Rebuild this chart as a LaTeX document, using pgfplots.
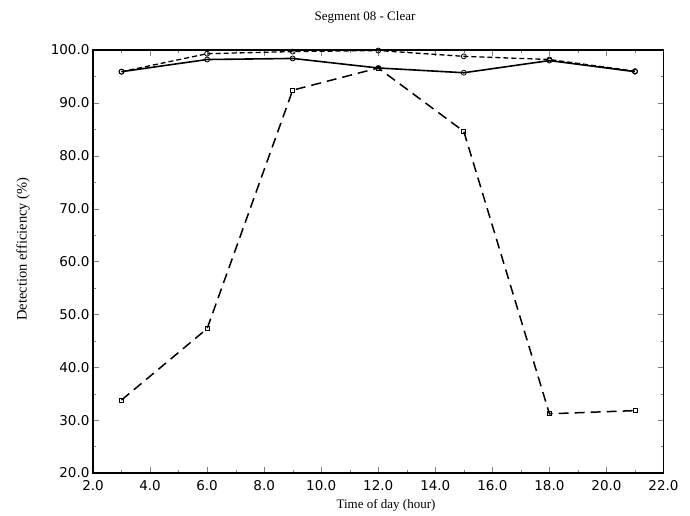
\documentclass[border=0pt]{standalone}
\usepackage{pgfplots}
\pgfplotsset{compat=1.18}
\usepackage{fontspec}
\setmainfont{Liberation Serif}
\newfontfamily\tickfont{DejaVu Sans}
\begin{document}
\begin{tikzpicture}[x=1pt,y=1pt]
\path[use as bounding box] (0,0) rectangle (690,515);
\begin{axis}[
  at={(93pt,42pt)}, anchor=south west,
  scale only axis, width=570.5pt, height=423pt,
  xmin=2, xmax=22, ymin=20, ymax=100,
  xtick={2,4,...,22}, ytick={20,30,...,100},
  minor x tick num=1, minor y tick num=1,
  tick align=inside, tick pos=both,
  major tick length=6pt, minor tick length=3pt,
  axis line style={line width=1.3pt},
  /pgf/number format/assume math mode=true,
  /pgf/number format/.cd, fixed, fixed zerofill, precision=1, /tikz/.cd,
  ticklabel style={font=\tickfont\fontsize{13.5}{15}\selectfont},
  xticklabel style={yshift=-4pt},
  title={Segment 08 - Clear},
  title style={font=\fontsize{13}{15}\selectfont, at={(axis description cs:0.4768,1.064)}, anchor=center},
  xlabel={Time of day (hour)},
  ylabel={Detection efficiency (\%)},
  xlabel style={font=\fontsize{13}{15}\selectfont, at={(axis description cs:0.5136,-0.0757)}, anchor=center},
  ylabel style={font=\fontsize{14.5}{16}\selectfont, at={(axis description cs:-0.1227,0.5296)}, anchor=center},
]
\addplot[black, line width=1.6pt, mark=o, mark size=2.5pt, mark options={solid, line width=0.8pt, fill=white}]
 coordinates {(3,95.9) (6,98.2) (9,98.4) (12,96.6) (15,95.7) (18,98.0) (21,95.9)};
\addplot[black, line width=1.3pt, dash pattern=on 5pt off 3pt, mark=o, mark size=2.5pt, mark options={solid, line width=0.8pt, fill=white}]
 coordinates {(3,95.9) (6,99.3) (9,99.7) (12,99.9) (15,98.8) (18,98.2) (21,96.0)};
\addplot[black, line width=1.5pt, dash pattern=on 10pt off 6pt, mark=square, mark size=2pt, mark options={solid, line width=0.8pt, fill=white}]
 coordinates {(3,33.8) (6,47.3) (9,92.4) (12,96.6) (15,84.6) (18,31.2) (21,31.8)};
\end{axis}
\end{tikzpicture}
\end{document}
